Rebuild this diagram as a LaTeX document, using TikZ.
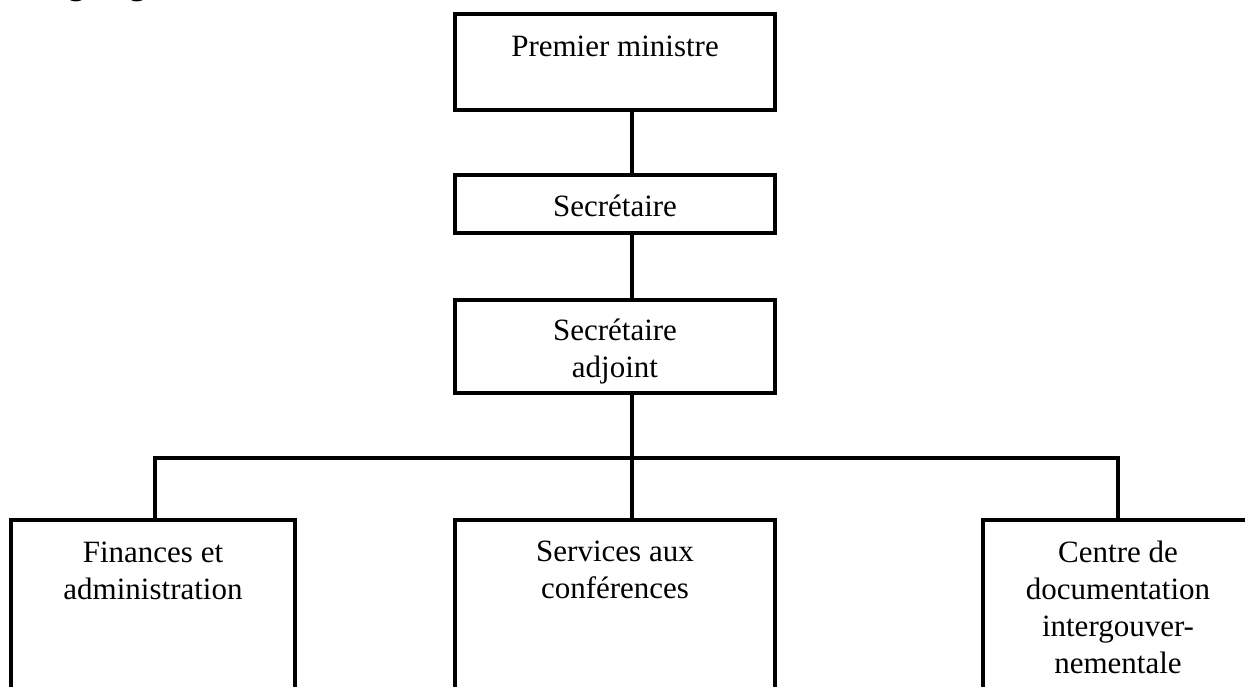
\documentclass[tikz,border=0pt]{standalone}
\usepackage{fontspec}
\setmainfont{Liberation Serif}
\usetikzlibrary{positioning}

\begin{document}
\begin{tikzpicture}[x=0.4pt, y=-0.4pt,
		unit/.style={draw, line width=1.6pt, inner sep=0pt},
		lbl/.style={inner sep=0pt, align=center, font=\fontsize{12.4pt}{14.9pt}\selectfont},
		link/.style={line width=1.6pt}]
		\useasboundingbox (0,0) rectangle (1245,686);
		\begin{scope}
			\clip (0,0) rectangle (1245,686);
			\node[anchor=base west, inner sep=0pt, font=\fontsize{13.3pt}{16pt}\selectfont\bfseries] (head) at (27,-5) {Organigramme};

			% top of the chart
			\node[unit, minimum width=128pt, minimum height=38.2pt] (pm) at (615,62.25) {};
			\node[unit, minimum width=128pt, minimum height=23.2pt] (sec) at (615,204) {};
			\node[unit, minimum width=128pt, minimum height=37.4pt] (adj) at (615,346.25) {};
			\node[lbl, below=9.3pt of pm.north] (pmtext) {Premier ministre};
			\node[lbl, below=8.6pt of sec.north] (sectext) {Secrétaire};
			\node[lbl, below=8.4pt of adj.north] (adjtext) {Secrétaire\\adjoint};

			% the three units
			\node[unit, minimum width=113.6pt, minimum height=112pt] (fin) at (153,660) {};
			\node[unit, minimum width=128pt, minimum height=112pt] (svc) at (615,660) {};
			\node[unit, minimum width=108pt, minimum height=112pt] (doc) at (1118,660) {};
			\node[lbl, below=9.3pt of fin.north] (fintext) {Finances et\\administration};
			\node[lbl, below=8.8pt of svc.north] (svctext) {Services aux\\conférences};
			\node[lbl, below=8.8pt of doc.north] (doctext) {Centre de\\documentation\\intergouver-\\nementale};

			\coordinate (trunk) at (632,458);
			\coordinate (barL) at (155,458);
			\coordinate (barR) at (1118,458);

			\draw[link] (pm.south -| trunk) -- (sec.north -| trunk);
			\draw[link] (sec.south -| trunk) -- (adj.north -| trunk);
			\draw[link] (adj.south -| trunk) -- (trunk) -- (svc.north -| trunk);
			\draw[link] (fin.north -| barL) -- (barL) -- (barR) -- (doc.north -| barR);
		\end{scope}
\end{tikzpicture}
\end{document}
